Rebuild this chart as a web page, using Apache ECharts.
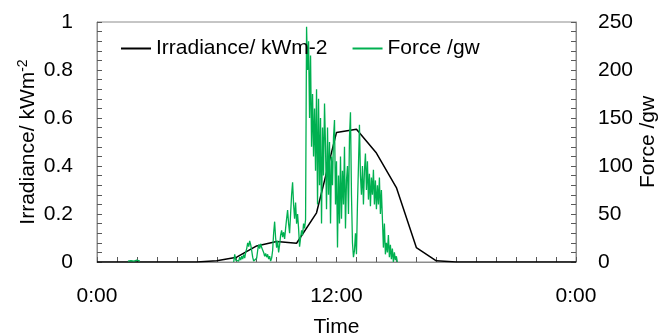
<!DOCTYPE html>
<html>
<head>
<meta charset="utf-8">
<script src="https://cdn.jsdelivr.net/npm/echarts@6/dist/echarts.min.js"></script>
<style>
html,body{margin:0;padding:0;background:#fff;}
#chart{width:660px;height:334px;}
</style>
</head>
<body>
<div id="chart"></div>
<script>
// Irradiance (kW m-2), hourly
const irrHours = [0,1,2,3,4,5,6,7,8,9,10,11,12,13,14,15,16,17,18,19,20,21,22,23,24];
const irrValues = [0,0,0,0,0,0,0.005,0.02,0.067,0.085,0.078,0.205,0.54,0.553,0.454,0.31,0.06,0.005,0,0,0,0,0,0,0];

// Force (gw), sampled every 3 minutes
const forceStepMin = 3;
const forceBlipStartMin = 93;
const forceBlipValues = [1,1,1,1.5,1,1,1,1,1,2,1,1,1];
const forceStartMin = 411;
const forceValues = [
 0,8,2,0,3,1,5,2,6,3,8,4,10,
 14,20,16,22,18,12,
 5,1,3,0,4,
 12,18,14,19,15,17,
 10,6,9,5,8,
 3,6,1,4,12,
 30,42,25,
 15,22,10,18,
 28,33,26,31,24,35,
 45,54,40,
 30,50,70,83,60,45,62,40,50,35,16,25,33,28,40,35,44,
 245,200,230,150,215,120,
 175,110,160,95,180,60,170,80,150,40,140,90,165,
 120,55,140,70,125,40,110,
 80,130,148,60,105,
 15,90,40,
 110,45,95,60,120,35,85,
 100,50,130,156,70,
 20,5,12,
 30,8,60,
 100,143,90,
 70,100,60,95,
 113,75,105,
 65,92,58,88,70,96,60,85,55,80,
 60,88,50,75,45,
 15,40,8,20,
 10,28,5,
 18,3,14,0,10,2,6,0
];

// Axis ticks
const xTickMinutes = [0, 720, 1440];
const leftTicks = [0,0.2,0.4,0.6,0.8,1];
const rightTicks = [0,50,100,150,200,250];

const irrData = irrHours.map((h,i)=>[h*60, irrValues[i]]);
const forceData = [];
forceBlipValues.forEach((v,i)=>forceData.push([forceBlipStartMin + i*forceStepMin, v]));
forceData.push([forceBlipStartMin + forceBlipValues.length*forceStepMin, null]);
forceValues.forEach((v,i)=>forceData.push([forceStartMin + i*forceStepMin, v]));

const FONT = 'Liberation Sans, Arial, sans-serif';
const FS = 21;
const tickColor = '#595959';
const lineColor = '#8c8c8c';

function fmtTime(v){
  const h = Math.floor(v/60)%24;
  const m = Math.round(v%60);
  return h + ':' + (m<10?'0':'') + m;
}

const chart = echarts.init(document.getElementById('chart'), null, {renderer:'canvas'});
chart.setOption({
  animation:false,
  backgroundColor:'#fff',
  textStyle:{fontFamily:FONT},
  grid:{left:97, right:84, top:22, bottom:72, show:true, borderColor:lineColor, borderWidth:1,
        containLabel:false, outerBoundsMode:'none'},
  legend:{
    left:116, top:33, itemWidth:30, itemHeight:2, itemGap:25, icon:'rect',
    textStyle:{fontFamily:FONT, fontSize:FS, color:'#000', padding:[0,0,0,0]},
    data:['Irradiance/ kWm-2','Force /gw']
  },
  xAxis:{
    type:'value', min:xTickMinutes[0], max:xTickMinutes[xTickMinutes.length-1], interval:720,
    name:'Time', nameLocation:'middle', nameGap:55, nameMoveOverlap:false,
    nameTextStyle:{fontFamily:FONT, fontSize:FS, color:'#000'},
    axisLine:{lineStyle:{color:lineColor, width:1}},
    axisTick:{inside:true, length:5, lineStyle:{color:tickColor}},
    minorTick:{show:true, splitNumber:12, length:5, lineStyle:{color:tickColor}},
    splitLine:{show:false},
    axisLabel:{fontFamily:FONT, fontSize:FS, color:'#000', margin:24, formatter:fmtTime}
  },
  yAxis:[{
    type:'value', min:leftTicks[0], max:leftTicks[leftTicks.length-1], interval:0.2, position:'left',
    name:'Irradiance/ kWm{sup|-2}', nameLocation:'middle', nameGap:57, nameRotate:90, nameMoveOverlap:false,
    nameTextStyle:{fontFamily:FONT, fontSize:FS, color:'#000',
      rich:{sup:{fontFamily:FONT, fontSize:14, color:'#000', padding:[0,0,10,0]}}},
    axisLine:{show:true, lineStyle:{color:lineColor, width:1}},
    axisTick:{show:true, inside:true, length:5, lineStyle:{color:tickColor}},
    minorTick:{show:true, splitNumber:5, length:5, lineStyle:{color:tickColor}},
    splitLine:{show:false},
    axisLabel:{fontFamily:FONT, fontSize:FS, color:'#000', margin:24,
      formatter:v=>String(+v.toFixed(1))}
  },{
    type:'value', min:rightTicks[0], max:rightTicks[rightTicks.length-1], interval:50, position:'right',
    name:'Force /gw', nameLocation:'middle', nameGap:62, nameRotate:90, nameMoveOverlap:false,
    nameTextStyle:{fontFamily:FONT, fontSize:FS, color:'#000'},
    axisLine:{show:true, lineStyle:{color:lineColor, width:1}},
    axisTick:{show:true, inside:true, length:5, lineStyle:{color:tickColor}},
    minorTick:{show:true, splitNumber:5, length:5, lineStyle:{color:tickColor}},
    splitLine:{show:false},
    axisLabel:{fontFamily:FONT, fontSize:FS, color:'#000', margin:22}
  }],
  series:[{
    name:'Irradiance/ kWm-2', type:'line', yAxisIndex:0, data:irrData,
    symbol:'none', lineStyle:{color:'#000', width:1.5}, itemStyle:{color:'#000'}
  },{
    name:'Force /gw', type:'line', yAxisIndex:1, data:forceData, connectNulls:false,
    symbol:'none', lineStyle:{color:'#00B050', width:1.3}, itemStyle:{color:'#00B050'}
  }]
});
</script>
</body>
</html>
